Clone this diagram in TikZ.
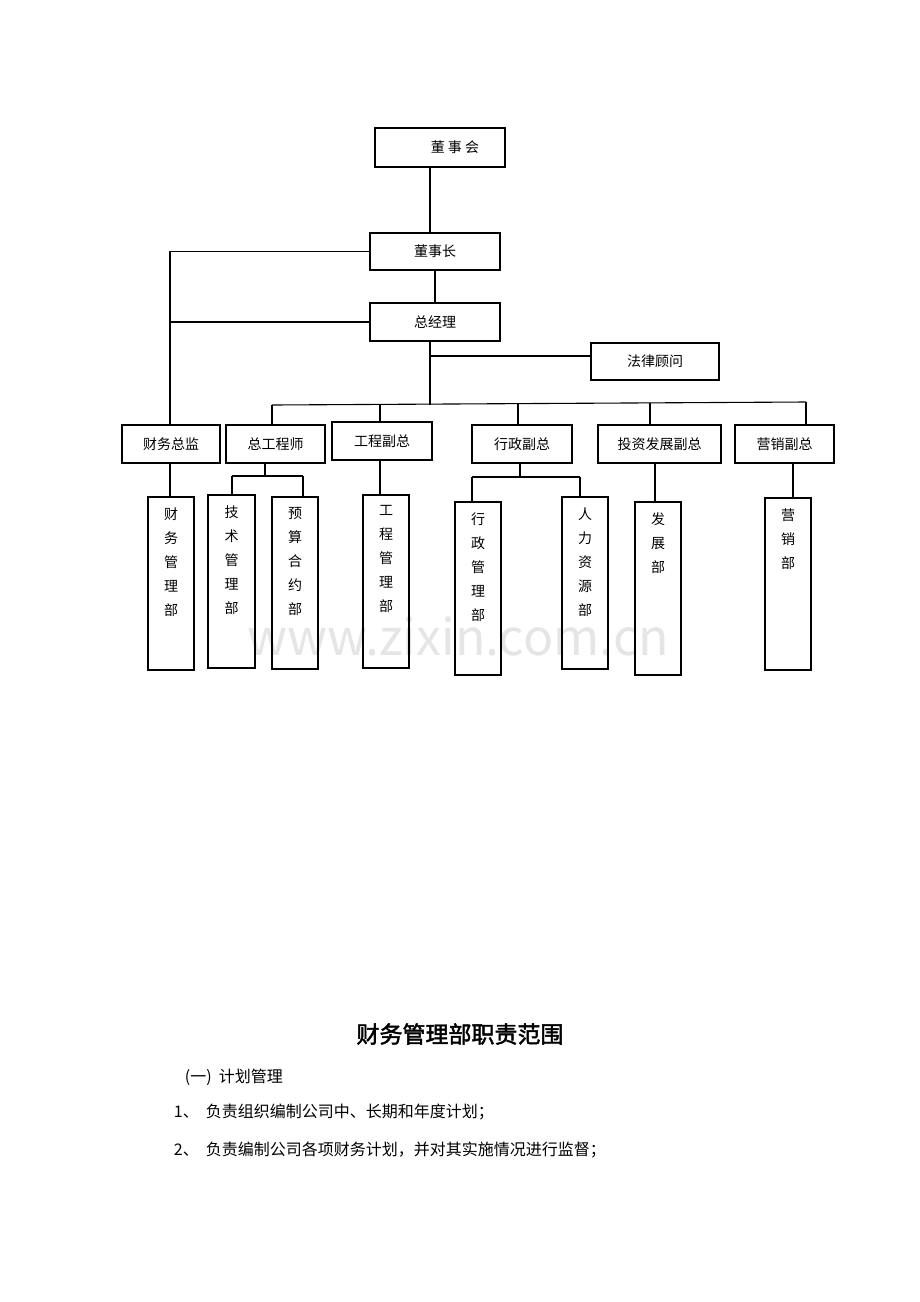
\documentclass[tikz,border=0pt]{standalone}
\usepackage{fontspec}
\setmainfont{Noto Sans CJK SC}
\newfontfamily\cjkb[FakeBold=2]{Noto Sans CJK SC}
\begin{document}
\begin{tikzpicture}[x=1pt,y=-1pt,line width=1.1pt,
 box/.style={draw,inner sep=0pt,font=\fontsize{14}{16}\selectfont},
 vt/.style={align=center,font=\fontsize{14}{24}\selectfont,anchor=north,inner sep=0pt}]
\useasboundingbox (0,0) rectangle (920,1302);
\newcommand\bx[6]{\node[box,minimum width=#4-#2,minimum height=#5-#3] (#1) at ({(#2+#4)/2},{(#3+#5)/2}) {#6};}
\newcommand\vb[6]{\node[draw,inner sep=0pt,minimum width=#4-#2,minimum height=#5-#3] (#1) at ({(#2+#4)/2},{(#3+#5)/2}) {};
 \node[vt] (#1t) at ({(#2+#4)/2},{#3+10}) {#6};}
\node[text=black!10,font=\fontsize{50}{50}\selectfont] (wm) at (458,636) {www.zixin.com.cn};
\bx{dsh}{375}{128}{505}{167}{\hspace*{30pt}董 事 会}
\bx{dsz}{370}{233}{500}{270}{董事长}
\bx{zjl}{370}{303}{500}{341}{总经理}
\bx{flgw}{591}{343}{719}{380}{法律顾问}
\bx{cwzj}{122}{425}{220}{463}{财务总监}
\bx{zgcs}{226}{425}{325}{463}{总工程师}
\bx{gcfz}{332}{422}{432}{460}{工程副总}
\bx{xzfz}{472}{425}{572}{463}{行政副总}
\bx{tzfz}{598}{425}{721}{463}{投资发展副总}
\bx{yxfz}{735}{425}{834}{463}{营销副总}
\vb{cwgl}{148}{497}{194}{670}{财\\务\\管\\理\\部}
\vb{jsgl}{208}{495}{255}{668}{技\\术\\管\\理\\部}
\vb{yshy}{272}{497}{318}{669}{预\\算\\合\\约\\部}
\vb{gcgl}{363}{495}{409}{668}{工\\程\\管\\理\\部}
\vb{xzgl}{455}{502}{501}{675}{行\\政\\管\\理\\部}
\vb{rlzy}{562}{497}{608}{669}{人\\力\\资\\源\\部}
\vb{fzb}{635}{502}{681}{675}{发\\展\\部}
\vb{yxb}{765}{498}{811}{670}{营\\销\\部}
\draw (430,167) -- (430,233);
\draw (435,270) -- (435,303);
\draw (dsz.west) -- (170,251.5) -- (cwzj.north -| 170,0);
\draw (zjl.west) -- (170,322);
\coordinate (hb) at (430,405);
\draw (430,341) -- (hb);
\draw (430,356) -- (591,356);
\draw (272,405) -- (806,402);
\draw (272,405) -- (272,425);
\draw (380,404.5) -- (380,422);
\draw (518,404) -- (518,425);
\draw (650,403) -- (650,425);
\draw (806,402) -- (806,425);
\draw (170,463) -- (170,497);
\draw (265,463) -- (265,476); \draw (232,476) -- (303,476);
\draw (232,476) -- (232,495); \draw (303,476) -- (303,497);
\draw (380,460) -- (380,495);
\draw (520,463) -- (520,477); \draw (472,477) -- (580,477);
\draw (472,477) -- (472,502); \draw (580,477) -- (580,497);
\draw (655,463) -- (655,502);
\draw (793,463) -- (793,498);
\node[font=\cjkb\fontsize{23}{25}\selectfont] (title) at (460,1034) {财务管理部职责范围};
\node[anchor=west,font=\fontsize{16}{18}\selectfont] (l0) at (181,1077) {(一)\ \ 计划管理};
\node[anchor=west,font=\fontsize{16}{18}\selectfont] (l1) at (170,1112) {1、\ \ 负责组织编制公司中、长期和年度计划；};
\node[anchor=west,font=\fontsize{16}{18}\selectfont] (l2) at (170,1150) {2、\ \ 负责编制公司各项财务计划，并对其实施情况进行监督；};
\end{tikzpicture}
\end{document}
